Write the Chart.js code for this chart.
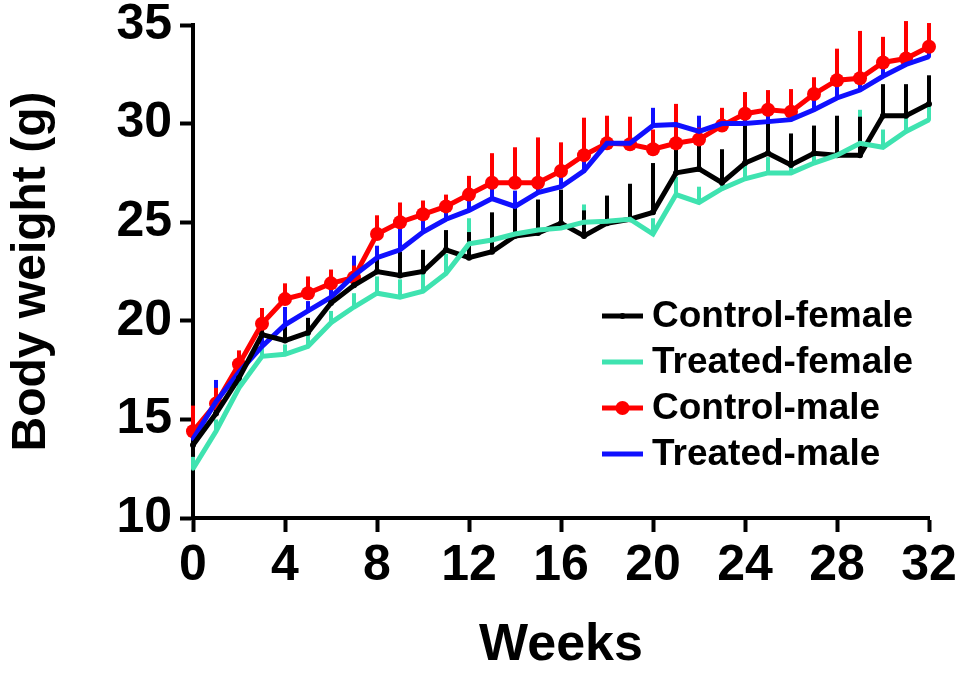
<!DOCTYPE html>
<html>
<head>
<meta charset="utf-8">
<script src="https://cdn.jsdelivr.net/npm/chart.js@4/dist/chart.umd.min.js"></script>
<style>
  html, body { margin: 0; padding: 0; background: #fff; }
  #wrap { width: 969px; height: 677px; position: relative; }
</style>
</head>
<body>
<div id="wrap"><canvas id="chart"></canvas></div>
<script>
const weeks = [0,1,2,3,4,5,6,7,8,9,10,11,12,13,14,15,16,17,18,19,20,21,22,23,24,25,26,27,28,29,30,31,32];

const controlFemale = [13.7,15.3,17.1,19.3,19.0,19.4,20.9,21.8,22.5,22.3,22.5,23.6,23.2,23.5,24.3,24.45,24.95,24.3,24.95,25.15,25.5,27.5,27.7,27.0,28.0,28.5,27.9,28.5,28.4,28.4,30.4,30.4,31.0];
const controlFemaleSd = [0.5,0.6,0.6,0.7,1.5,0.75,0.8,0.9,1.3,1.2,1.1,1.0,1.3,2.0,1.6,1.7,1.7,1.3,1.4,1.8,2.5,1.5,1.4,1.7,2.0,1.7,1.6,1.4,2.0,1.95,1.6,1.6,1.45];

const treatedFemale = [12.5,14.4,16.6,18.2,18.3,18.7,19.9,20.7,21.4,21.2,21.5,22.4,23.9,24.1,24.4,24.6,24.7,25.0,25.05,25.15,24.4,26.4,26.0,26.7,27.2,27.5,27.5,28.0,28.4,29.0,28.8,29.6,30.2];
const treatedFemaleSd = [0.6,0.6,0.5,0.6,0.5,0.6,0.6,0.7,0.85,0.9,0.9,1.0,1.3,0.9,0.8,0.9,0.8,0.9,0.8,0.8,0.8,0.9,0.8,0.7,0.8,0.8,0.9,0.8,0.8,1.7,0.9,0.9,0.8];

const controlMale = [14.4,15.8,17.8,19.85,21.1,21.4,21.9,22.2,24.4,25.0,25.4,25.8,26.4,27.0,27.0,27.0,27.6,28.4,29.0,28.95,28.7,29.0,29.2,29.9,30.5,30.7,30.6,31.5,32.2,32.3,33.1,33.3,33.9];
const controlMaleSd = [1.3,0.8,0.7,0.8,0.8,0.85,0.7,0.6,0.95,1.0,0.7,0.6,0.95,1.5,1.8,2.3,1.45,1.9,1.4,1.4,1.0,2.0,0.6,0.9,1.1,1.0,1.15,0.85,1.6,2.4,1.3,1.9,1.2];

const treatedMale = [14.0,15.9,17.4,18.7,19.8,20.5,21.2,22.3,23.2,23.6,24.5,25.15,25.6,26.2,25.8,26.5,26.8,27.6,29.0,29.0,29.9,29.95,29.6,30.0,30.0,30.1,30.2,30.7,31.3,31.7,32.4,33.0,33.4];
const treatedMaleSd = [0.5,1.1,0.5,0.5,0.9,0.5,0.6,1.0,0.6,1.2,0.6,0.6,0.6,0.6,0.8,0.6,0.6,0.6,0.6,0.6,0.9,0.6,0.8,0.6,0.5,0.6,0.6,0.6,0.6,0.6,0.6,0.6,0.6];

const yTicks = [10,15,20,25,30,35];
const xTicks = [0,4,8,12,16,20,24,28,32];

const FONT = "'Liberation Sans', Arial, Helvetica, sans-serif";

function toPoints(values) {
  return weeks.map((w, i) => ({ x: w, y: values[i] }));
}

// drawn back to front
const SERIES = [
  { label: "Treated-female", values: treatedFemale, sd: treatedFemaleSd, color: "#3fe3b0", radius: 2, legendRow: 1 },
  { label: "Control-female", values: controlFemale, sd: controlFemaleSd, color: "#000000", radius: 3, legendRow: 0 },
  { label: "Treated-male", values: treatedMale, sd: treatedMaleSd, color: "#1010ff", radius: 2, legendRow: 3 },
  { label: "Control-male", values: controlMale, sd: controlMaleSd, color: "#ff0000", radius: 7, legendRow: 2 },
];

const errorBars = {
  id: "errorBars",
  beforeDatasetsDraw(chart) {
    const { ctx, scales } = chart;
    ctx.save();
    ctx.lineWidth = 4;
    chart.data.datasets.forEach((ds) => {
      ctx.strokeStyle = ds.borderColor;
      ds.sd.forEach((s, i) => {
        const px = scales.x.getPixelForValue(weeks[i]);
        const y0 = scales.y.getPixelForValue(ds.data[i].y);
        const y1 = scales.y.getPixelForValue(ds.data[i].y + s);
        ctx.beginPath();
        ctx.moveTo(px, y0);
        ctx.lineTo(px, y1);
        ctx.stroke();
      });
    });
    ctx.restore();
  },
};

const insideLegend = {
  id: "insideLegend",
  afterDraw(chart) {
    const { ctx } = chart;
    const x0 = 602, x1 = 643, textX = 652, top = 316, step = 46;
    ctx.save();
    ctx.font = "bold 37px " + FONT;
    ctx.textBaseline = "middle";
    chart.data.datasets.forEach((ds) => {
      const y = top + ds.legendRow * step;
      ctx.strokeStyle = ds.borderColor;
      ctx.lineWidth = 5;
      ctx.beginPath();
      ctx.moveTo(x0, y);
      ctx.lineTo(x1, y);
      ctx.stroke();
      ctx.fillStyle = ds.borderColor;
      ctx.beginPath();
      ctx.arc((x0 + x1) / 2, y, ds.pointRadius, 0, Math.PI * 2);
      ctx.fill();
      ctx.fillStyle = "#000";
      ctx.fillText(ds.label, textX, y + 1);
    });
    ctx.restore();
  },
};

new Chart(document.getElementById("chart"), {
  type: "line",
  data: {
    datasets: SERIES.map((s) => ({
      label: s.label,
      data: toPoints(s.values),
      sd: s.sd,
      legendRow: s.legendRow,
      borderColor: s.color,
      backgroundColor: s.color,
      borderWidth: 5,
      pointRadius: s.radius,
      pointBorderWidth: 0,
      pointBackgroundColor: s.color,
      tension: 0,
      clip: false,
    })),
  },
  options: {
    responsive: true,
    maintainAspectRatio: false,
    animation: false,
    layout: { padding: { top: 25, right: 40, left: 0, bottom: 0 } },
    plugins: {
      legend: { display: false },
      tooltip: { enabled: false },
    },
    scales: {
      x: {
        type: "linear",
        min: 0,
        max: 32,
        afterFit: (scale) => { scale.height = 159; scale.paddingLeft = 0; scale.paddingRight = 0; },
        afterBuildTicks: (scale) => { scale.ticks = xTicks.map((v) => ({ value: v })); },
        border: { display: true, color: "#000", width: 4 },
        grid: { drawOnChartArea: false, drawTicks: true, tickLength: 14, tickWidth: 4, tickColor: "#000" },
        ticks: { color: "#000", padding: 4, font: { family: FONT, size: 50, weight: "bold" }, maxRotation: 0 },
        title: { display: true, text: "Weeks", color: "#000", padding: 0, font: { family: FONT, size: 52, weight: "bold" } },
      },
      y: {
        min: 10,
        max: 35,
        afterFit: (scale) => { scale.width = 193; scale.paddingTop = 0; scale.paddingBottom = 0; },
        afterBuildTicks: (scale) => { scale.ticks = yTicks.map((v) => ({ value: v })); },
        border: { display: true, color: "#000", width: 4 },
        grid: { drawOnChartArea: false, drawTicks: true, tickLength: 13, tickWidth: 4, tickColor: "#000" },
        ticks: { color: "#000", padding: 8, font: { family: FONT, size: 50, weight: "bold" } },
        title: { display: true, text: "Body weight (g)", color: "#000", padding: 3, font: { family: FONT, size: 48, weight: "bold" } },
      },
    },
  },
  plugins: [errorBars, insideLegend],
});
</script>
</body>
</html>
